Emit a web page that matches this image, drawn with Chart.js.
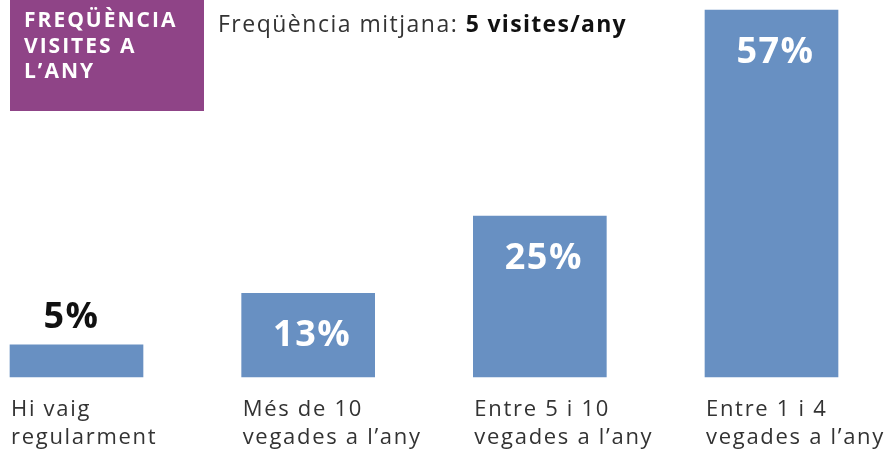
<!DOCTYPE html>
<html>
<head>
<meta charset="utf-8">
<script src="https://cdn.jsdelivr.net/npm/chart.js@4"></script>
<style>
  html, body { margin: 0; padding: 0; background: #fff; }
  #wrap { width: 889px; height: 449px; position: relative; }
</style>
</head>
<body>
<div id="wrap"><canvas id="chart" width="889" height="449"></canvas></div>
<script>
const categories = [
  ["Hi vaig", "regularment"],
  ["Més de 10", "vegades a l’any"],
  ["Entre 5 i 10", "vegades a l’any"],
  ["Entre 1 i 4", "vegades a l’any"]
];
const values = [5, 13, 25, 57];
const valueLabels = ["5%", "13%", "25%", "57%"];
const titleLines = ["FREQÜÈNCIA", "VISITES A", "L’ANY"];
const subtitleText = "Freqüència mitjana: ";
const subtitleBold = "5 visites/any";

const FONT = "'Open Sans', 'Noto Sans', sans-serif";
const BAR_COLOR = "#6890c2";
const PURPLE = "#8f4487";

// header: purple box + average text
const headerPlugin = {
  id: "header",
  beforeDraw(chart) {
    const ctx = chart.ctx;
    ctx.save();
    ctx.fillStyle = PURPLE;
    ctx.fillRect(10, 0, 194, 111);
    ctx.fillStyle = "#fff";
    ctx.font = "bold 21px " + FONT;
    ctx.letterSpacing = "2px";
    ctx.textBaseline = "alphabetic";
    ctx.textAlign = "left";
    titleLines.forEach((t, i) => ctx.fillText(t, 24, 27 + i * 25.5));

    ctx.font = "23px " + FONT;
    ctx.letterSpacing = "1.5px";
    ctx.fillStyle = "#333";
    ctx.fillText(subtitleText, 218, 32);
    const w = ctx.measureText(subtitleText).width;
    ctx.font = "bold 23px " + FONT;
    ctx.letterSpacing = "1.3px";
    ctx.fillStyle = "#111";
    ctx.fillText(subtitleBold, 218 + w, 32);
    ctx.restore();
  }
};

// value labels and category labels, placed from the bar elements
const labelsPlugin = {
  id: "labels",
  afterDatasetsDraw(chart) {
    const ctx = chart.ctx;
    const meta = chart.getDatasetMeta(0);
    ctx.save();
    meta.data.forEach((bar, i) => {
      const left = bar.x - bar.width / 2;
      // category text
      ctx.font = "22px " + FONT;
      ctx.letterSpacing = "1.7px";
      ctx.fillStyle = "#333";
      ctx.textAlign = "left";
      ctx.textBaseline = "alphabetic";
      categories[i].forEach((line, j) => ctx.fillText(line, left + 1, bar.base + 39 + j * 27.5));

      // value text
      ctx.font = "bold 36px " + FONT;
      ctx.letterSpacing = "1.5px";
      ctx.textAlign = "center";
      const h = bar.base - bar.y;
      if (h < 60) {
        ctx.fillStyle = "#111";
        ctx.fillText(valueLabels[i], bar.x - 5, bar.y - 17);
      } else {
        ctx.fillStyle = "#fff";
        ctx.fillText(valueLabels[i], bar.x + 4, bar.y + 53);
      }
    });
    ctx.restore();
  }
};

new Chart(document.getElementById("chart"), {
  type: "bar",
  data: {
    labels: categories.map(c => c.join(" ")),
    datasets: [{
      data: values,
      backgroundColor: BAR_COLOR,
      barThickness: 133,
      clip: false
    }]
  },
  options: {
    responsive: false,
    animation: false,
    layout: { padding: { left: 76.5, right: 117.5, top: 10, bottom: 72 } },
    plugins: { legend: { display: false }, tooltip: { enabled: false } },
    scales: {
      x: { display: false, offset: false },
      y: { display: false, min: 0, max: 57 }
    }
  },
  plugins: [headerPlugin, labelsPlugin]
});
</script>
</body>
</html>
